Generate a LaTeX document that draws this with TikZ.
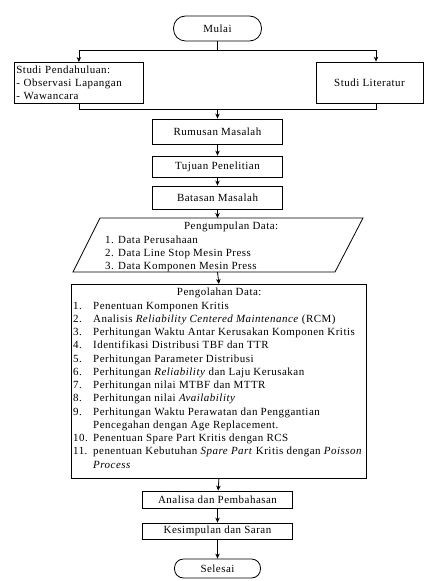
\documentclass[tikz,border=0pt]{standalone}
\usepackage{fontspec}
\setmainfont{Liberation Serif}[LetterSpace=4.5]
\usetikzlibrary{arrows.meta}
\newcommand\itm[1]{\makebox[20bp][l]{#1}}
\begin{document}
\begin{tikzpicture}[x=1bp,y=-1bp,
  every node/.style={font=\fontsize{11}{13.3}\selectfont, inner sep=1bp},
  box/.style={draw, line width=0.8bp, minimum height=#1, inner sep=1bp},
  term/.style={draw, line width=0.8bp, rounded corners=12bp},
  conn/.style={line width=0.8bp},
  arr/.style={conn, -{Stealth[length=5bp,width=4.5bp]}}]
\useasboundingbox (0,0) rectangle (425,581);
\fill[white] (0,0) rectangle (425,581);

\node[term, minimum width=88bp, minimum height=25bp] (mulai) at (217.5,28.5) {Mulai};

\node[box=41bp, minimum width=129bp, align=left, anchor=north west, text width=125bp] (pend) at (14,62) {Studi Pendahuluan:\\- Observasi Lapangan\\- Wawancara};
\node[box=41bp, minimum width=107bp] (lit) at (369.5,82.5) {Studi Literatur};

\node[box=25bp, minimum width=130bp] (rum) at (217.5,131.5) {Rumusan Masalah};
\node[box=21bp, minimum width=130bp] (tuj) at (217.5,166.5) {Tujuan Penelitian};
\node[box=23bp, minimum width=130bp] (bat) at (217.5,197.5) {Batasan Masalah};

% parallelogram
\coordinate (pa) at (100,218);
\coordinate (pb) at (363,218);
\coordinate (pc) at (335,272);
\coordinate (pd) at (73,272);
\draw[line width=0.8bp] (pa) -- (pb) -- (pc) -- (pd) -- cycle;
\coordinate (pdtop) at (217.5,218);
\coordinate (pdbot) at (217.5,272);
\node[align=left, anchor=north west] (pdt) at (104,221) {\makebox[252bp][c]{Pengumpulan Data:}\\1. Data Perusahaan\\2. Data Line Stop Mesin Press\\3. Data Komponen Mesin Press};

\node[box=194bp, minimum width=295bp, anchor=north west] (olah) at (71,284) {};
\node[align=left, anchor=north west] (olaht) at (72,287) {%
\makebox[292bp][c]{Pengolahan Data:}\\
\itm{1.}Penentuan Komponen Kritis\\
\itm{2.}Analisis \textit{Reliability Centered Maintenance} (RCM)\\
\itm{3.}Perhitungan Waktu Antar Kerusakan Komponen Kritis\\
\itm{4.}Identifikasi Distribusi TBF dan TTR\\
\itm{5.}Perhitungan Parameter Distribusi\\
\itm{6.}Perhitungan \textit{Reliability} dan Laju Kerusakan\\
\itm{7.}Perhitungan nilai MTBF dan MTTR\\
\itm{8.}Perhitungan nilai \textit{Availability}\\
\itm{9.}Perhitungan Waktu Perawatan dan Penggantian\\
\itm{}Pencegahan dengan Age Replacement.\\
\itm{10.}Penentuan Spare Part Kritis dengan RCS\\
\itm{11.}penentuan Kebutuhan \textit{Spare Part} Kritis dengan \textit{Poisson}\\
\itm{}\textit{Process}};

\node[box=17bp, minimum width=150bp] (ana) at (217.5,499.5) {Analisa dan Pembahasan};
\node[box=16bp, minimum width=150bp] (kes) at (217.5,531) {Kesimpulan dan Saran};
\node[term, minimum width=86bp, minimum height=19bp, rounded corners=9bp] (sel) at (217.5,568.5) {Selesai};

% connectors
\coordinate (s1) at (217.5,50);
\coordinate (j2) at (217.5,109);
\draw[conn] (mulai.south) -- (s1);
\draw[arr] (s1) -| (pend.north);
\draw[arr] (s1) -| ([xshift=6.5bp]lit.north);
\draw[conn] (pend.south) |- (j2);
\draw[conn] ([xshift=6.5bp]lit.south) |- (j2);
\draw[arr] (j2) -- (rum.north);
\draw[arr] (rum) -- (tuj);
\draw[arr] (tuj) -- (bat);
\draw[arr] (bat) -- (pdtop);
\draw[arr] (pdbot) -- (olah.north);
\draw[arr] (olah.south) -- (ana);
\draw[arr] (ana) -- (kes);
\draw[arr] (kes) -- (sel);
\end{tikzpicture}
\end{document}
